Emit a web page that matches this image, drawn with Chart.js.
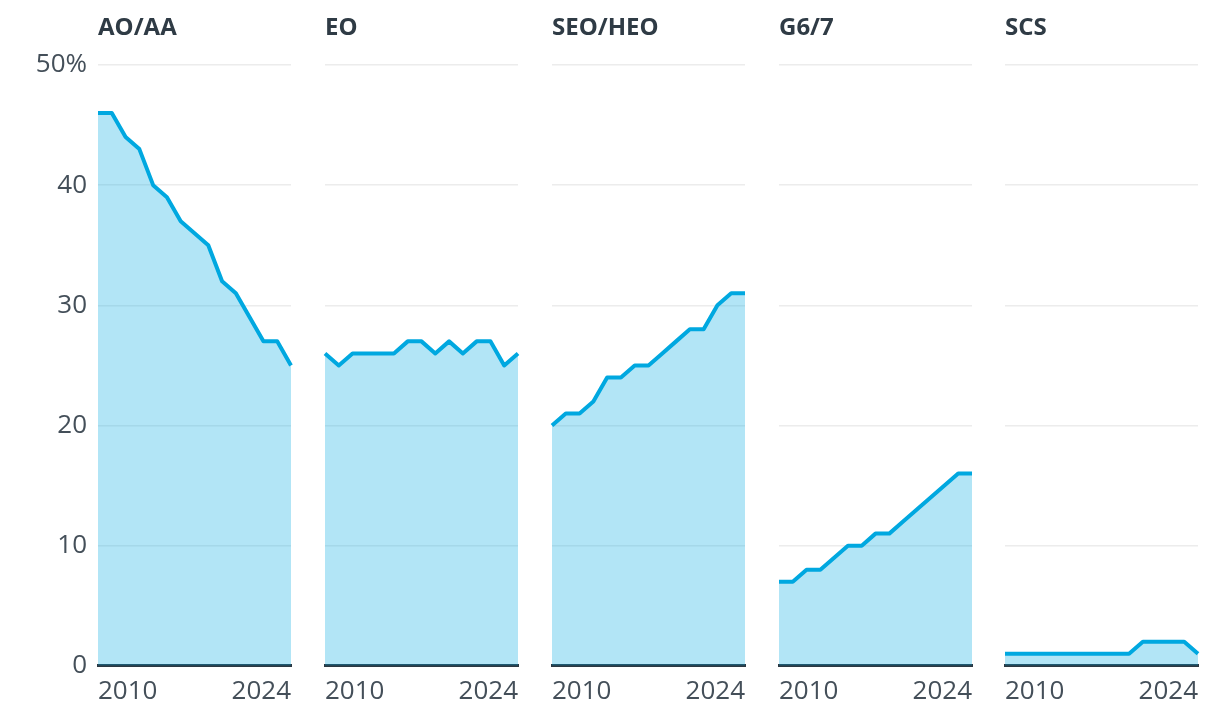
<!DOCTYPE html>
<html>
<head>
<meta charset="utf-8">
<script src="https://cdn.jsdelivr.net/npm/chart.js@4/dist/chart.umd.min.js"></script>
<style>
  html, body { margin: 0; padding: 0; background: #ffffff; }
  body { width: 1220px; height: 716px; position: relative; overflow: hidden; font-family: "Open Sans", "Noto Sans", sans-serif; }
  .panel { position: absolute; top: 0; height: 740px; }
  .panel canvas { display: block; }
  .title { position: absolute; top: 9px; font-size: 24px; font-weight: 700; color: #2f3b45; white-space: nowrap; }
</style>
</head>
<body>
<script>
// ---- data ----
const years = ['2010','2011','2012','2013','2014','2015','2016','2017','2018','2019','2020','2021','2022','2023','2024'];
const panelTitles = ['AO/AA', 'EO', 'SEO/HEO', 'G6/7', 'SCS'];
const aoAa   = [46, 46, 44, 43, 40, 39, 37, 36, 35, 32, 31, 29, 27, 27, 25];
const eo     = [26, 25, 26, 26, 26, 26, 27, 27, 26, 27, 26, 27, 27, 25, 26];
const seoHeo = [20, 21, 21, 22, 24, 24, 25, 25, 26, 27, 28, 28, 30, 31, 31];
const g67    = [7, 7, 8, 8, 9, 10, 10, 11, 11, 12, 13, 14, 15, 16, 16];
const scs    = [1, 1, 1, 1, 1, 1, 1, 1, 1, 1, 2, 2, 2, 2, 1];
const yTickValues = [0, 10, 20, 30, 40, 50];
const yMax = 50;

const seriesList = [aoAa, eo, seoHeo, g67, scs];

// ---- layout ----
const areaLefts = [98, 325, 552, 779, 1005];
const areaWidth = 193;
const leftAxisW = 98;
const sideGap = 12;
const canvasH = 740;

const FONT = '"Open Sans", "Noto Sans", sans-serif';
const LINE = '#00a8e0';
const FILL = 'rgba(0,168,224,0.30)';
const TEXT = '#444f59';

seriesList.forEach((data, i) => {
  const first = i === 0;
  const axisW = first ? leftAxisW : sideGap;
  const left = areaLefts[i] - axisW;
  const width = axisW + areaWidth + sideGap;

  const wrap = document.createElement('div');
  wrap.className = 'panel';
  wrap.style.left = left + 'px';
  wrap.style.width = width + 'px';
  const canvas = document.createElement('canvas');
  canvas.width = width;
  canvas.height = canvasH;
  canvas.style.width = width + 'px';
  canvas.style.height = canvasH + 'px';
  wrap.appendChild(canvas);
  document.body.appendChild(wrap);

  const t = document.createElement('div');
  t.className = 'title';
  t.style.left = areaLefts[i] + 'px';
  t.textContent = panelTitles[i];
  document.body.appendChild(t);

  new Chart(canvas, {
    type: 'line',
    data: {
      labels: years,
      datasets: [{
        data: data,
        borderColor: LINE,
        backgroundColor: FILL,
        borderWidth: 4,
        fill: 'origin',
        pointRadius: 0,
        tension: 0,
        borderJoinStyle: 'round'
      }]
    },
    options: {
      responsive: false,
      animation: false,
      events: [],
      devicePixelRatio: 1,
      layout: { padding: { top: 65, bottom: 23, left: 0, right: sideGap } },
      plugins: { legend: { display: false }, tooltip: { enabled: false }, title: { display: false } },
      scales: {
        x: {
          type: 'category',
          offset: false,
          grid: { display: false, drawTicks: false },
          border: { display: true, color: '#2b3741', width: 3 },
          ticks: {
            autoSkip: false,
            maxRotation: 0,
            minRotation: 0,
            align: 'inner',
            padding: 10,
            color: TEXT,
            font: { family: FONT, size: 26 },
            callback: function(v, idx) {
              return (idx === 0 || idx === years.length - 1) ? years[idx] : '';
            }
          }
        },
        y: {
          min: 0,
          max: yMax,
          afterBuildTicks: (s) => { s.ticks = yTickValues.map(v => ({ value: v })); },
          afterFit: (s) => { s.width = axisW; },
          grid: {
            drawTicks: false,
            color: (ctx) => ctx.tick && ctx.tick.value === 0 ? 'rgba(0,0,0,0)' : '#ececec',
            lineWidth: 1.5
          },
          border: { display: false },
          ticks: {
            display: first,
            padding: 11,
            color: TEXT,
            font: { family: FONT, size: 26 },
            callback: (v) => v === yMax ? v + '%' : String(v)
          }
        }
      }
    }
  });
});
</script>
</body>
</html>
